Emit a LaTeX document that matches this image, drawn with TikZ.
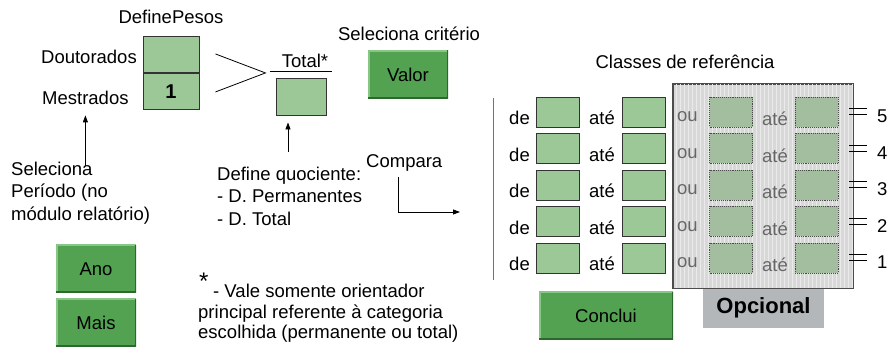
\documentclass[tikz,border=0pt]{standalone}
\usepackage{fontspec}
\setmainfont{Liberation Sans}
\usetikzlibrary{positioning,arrows.meta,calc}

\definecolor{fieldgreen}{RGB}{155,200,150}
\definecolor{optgreen}{RGB}{163,190,158}
\definecolor{btngreen}{RGB}{82,162,82}
\definecolor{btnlight}{RGB}{135,198,135}
\definecolor{btndark}{RGB}{44,104,44}
\definecolor{optgray}{RGB}{216,216,216}
\definecolor{optgrid}{RGB}{234,234,234}
\definecolor{taggray}{RGB}{179,183,186}

\begin{document}
\begin{tikzpicture}[
    x=1pt,y=-1pt,
    txt/.style={inner sep=0pt,font=\fontsize{18.5}{22.5}\selectfont},
    field/.style={draw=black!80,fill=fieldgreen,line width=0.9pt,
      minimum width=43,minimum height=30,inner sep=0pt},
    optfield/.style={draw=black!70,densely dotted,fill=optgreen,line width=0.9pt,
      minimum width=43,minimum height=30,inner sep=0pt},
    opttxt/.style={txt,text=black!60},
    button/.style={txt,fill=btngreen,minimum width=80,minimum height=48,
      path picture={
        \draw[btnlight,line width=3pt] (path picture bounding box.south west)
          -- (path picture bounding box.north west) -- (path picture bounding box.north east);
        \draw[btndark,line width=3pt] (path picture bounding box.north east)
          -- (path picture bounding box.south east) -- (path picture bounding box.south west);
      }},
    tag/.style={fill=taggray,minimum width=121,minimum height=39,inner sep=0pt,
      font=\fontsize{22}{26}\selectfont\bfseries},
    arrow/.style={-{Triangle[length=7pt,width=5pt]},line width=0.8pt},
  ]
  \useasboundingbox (0,0) rectangle (889,347);

  % weights
  \node[txt,anchor=base] (pesosT) at (171,24) {DefinePesos};
  \node[field,minimum width=56,minimum height=36.5] (pesosD) at (171,54.25) {};
  \node[field,minimum width=56,minimum height=36.5,below=0 of pesosD,
        font=\fontsize{20}{24}\selectfont\bfseries] (pesosM) {1};
  \node[txt,anchor=base east] (dout)  at (137,64)  {Doutorados};
  \node[txt,anchor=base west] (mestr) at (42,105) {Mestrados};
  \node[txt,anchor=north west,align=left] (selPer) at (11,161.7)
    {Seleciona\\Período (no\\módulo relatório)};
  \draw[arrow,shorten <=-4,shorten >=10] (selPer.north -| mestr.south) -- (mestr.south);

  \draw[line width=0.8pt] ([xshift=16,yshift=19]pesosD.south east)
    -- ([xshift=66]pesosD.south east) -- ([xshift=16,yshift=-19]pesosD.south east);

  % quotient
  \node[field,minimum width=50,minimum height=37] (totBox) at (301,96.5) {};
  \draw[line width=0.8pt] ([xshift=-6,yshift=6]totBox.north west)
    -- ([xshift=6,yshift=6]totBox.north east);
  \node[txt,anchor=base] (totLbl) at (305,68) {Total*};
  \node[txt,anchor=north west,align=left] (defQ) at (217,166.7)
    {Define quociente:\\- D. Permanentes\\- D. Total};
  \coordinate (quoX) at ([xshift=-13]totBox.south);
  \draw[arrow,shorten <=14.5,shorten >=7] (defQ.north -| quoX) -- (quoX);

  \node[txt,anchor=base west] (comp) at (366,168) {Compara};
  \coordinate (cmpEnd) at (460,212);
  \draw[arrow] ([xshift=-6,yshift=-5]comp.south) |- (cmpEnd);

  \node[txt,anchor=base] (selCrit) at (409,41) {Seleciona critério};
  \node[button] (valor) at (408,74.5) {Valor};

  \node[button] (ano)  at (96,269) {Ano};
  \node[button] (mais) at (96,323) {Mais};

  % footnote
  \node[txt,anchor=base west,font=\fontsize{24}{24}\selectfont] (star) at (199,290) {*};
  \node[txt,anchor=north west,align=left,font=\fontsize{18.5}{20.7}\selectfont] (note)
    at (198,283.7) {\hspace{15pt}- Vale somente orientador\\principal referente à categoria\\
    escolhida (permanente ou total)};

  % reference classes
  \node[txt,anchor=base] (classes) at (685,69) {Classes de referência};
  \node[draw=black!70,fill=optgray,line width=0.9pt,minimum width=180,minimum height=204,
        inner sep=0pt] (optPanel) at (763,186) {};
  \draw[optgrid,line width=0.6pt,step=4]
    ([shift={(1,-1)}]optPanel.north west) grid ([shift={(-1,1)}]optPanel.south east);
  \draw[black!70,line width=0.9pt] (optPanel.north west) rectangle (optPanel.south east);
  \node[tag,anchor=north] (opcional) at ([xshift=0.5]optPanel.south) {Opcional};
  \draw[black!55,line width=1pt] (493,98) -- (493,280);

  \foreach \i/\n in {1/5,2/4,3/3,4/2,5/1}{
    \pgfmathsetmacro\yc{97+(\i-1)*36.5+15}
    \pgfmathsetmacro\yb{\yc+15}
    \node[field]    (from\i)    at (558,\yc)   {};
    \node[field]    (to\i)      at (644,\yc)   {};
    \node[optfield] (altfrom\i) at (731,\yc)   {};
    \node[optfield] (altto\i)   at (816.5,\yc) {};
    \node[txt,anchor=base east]    (de\i)     at (530,\yb-2) {de};
    \node[txt,anchor=base west]    (ate\i)    at (589,\yb-2) {até};
    \node[opttxt,anchor=base west] (ou\i)     at (677,\yb-5) {ou};
    \node[opttxt,anchor=base west] (altate\i) at (762,\yb-1) {até};
    \draw[line width=0.8pt] ([xshift=11,yshift=3.5]altto\i.east) -- ++(18,0)
      ([xshift=11,yshift=-2.5]altto\i.east) -- ++(18,0);
    \node[txt,anchor=base west] (num\i) at (877,\yb-4) {\n};
  }

  \node[button,minimum width=134] (conclui) at (606,316) {Conclui};
\end{tikzpicture}
\end{document}
